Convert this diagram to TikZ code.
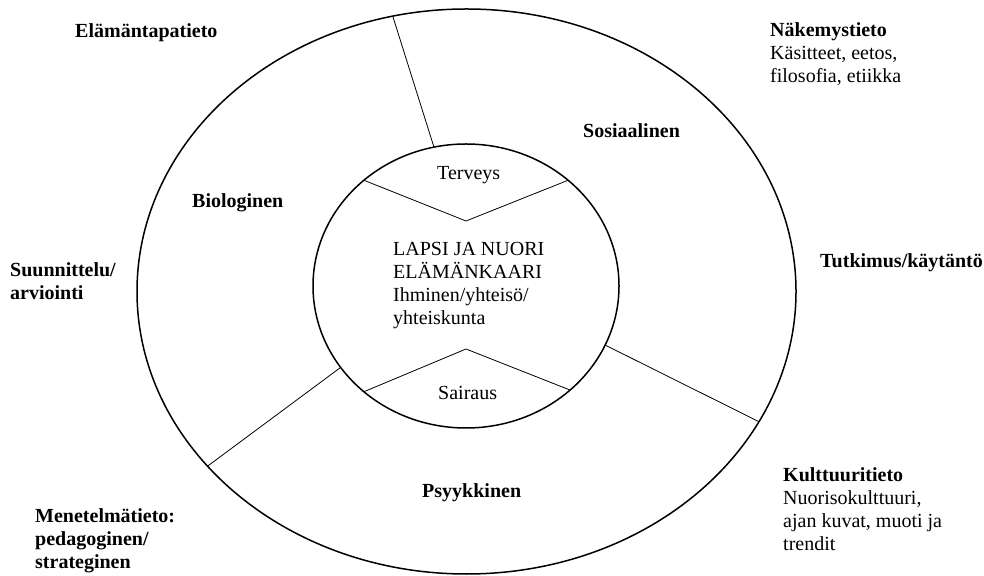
\documentclass[tikz,border=0pt]{standalone}
\usepackage{fontspec}
\setmainfont{Liberation Serif}
\usetikzlibrary{shapes.geometric}
\begin{document}
\begin{tikzpicture}[x=1pt,y=1pt,
  ring/.style={ellipse, draw, line width=1.5pt, inner sep=0pt, outer sep=0pt},
  divider/.style={line width=0.8pt},
  lbl/.style={anchor=base west, inner sep=0pt, align=left, font=\fontsize{20}{23}\selectfont},
  head/.style={lbl, font=\fontsize{20}{23}\selectfont\bfseries}]
\useasboundingbox (0,0) rectangle (984,575);

% the two rings
\node[ring, minimum width=659pt, minimum height=565pt] (outer) at (466.5,283.5) {};
\node[ring, minimum width=306pt, minimum height=284pt] (inner) at (466,289) {};

% sector dividers between the rings
\draw[divider] (outer.105.3) -- (inner.103);
\draw[divider] (inner.213.7) -- (outer.214.5);
\draw[divider] (inner.337) -- (outer.336);

% health / illness chevrons inside the inner ring
\coordinate (topapex) at (466,354);
\coordinate (botapex) at (466,226);
\draw[divider] (inner.134.7) -- (topapex) -- (inner.46.4);
\draw[divider] (inner.226.4) -- (botapex) -- (inner.315);

% centre (multi-line nodes are placed by the baseline of their last line)
\node[lbl] (core) at (393,250) {LAPSI JA NUORI\\ELÄMÄNKAARI\\Ihminen/yhteisö/\\yhteiskunta};
\node[lbl] (health) at (437,395) {Terveys};
\node[lbl] (illness) at (438,175) {Sairaus};

% sectors
\node[head] (social) at (583,437) {Sosiaalinen};
\node[head] (bio) at (192,367) {Biologinen};
\node[head] (psy) at (422,77) {Psyykkinen};

% surrounding knowledge areas
\node[head] (lifestyle) at (75,537) {Elämäntapatieto};
\node[lbl] (view) at (770,492) {\textbf{Näkemystieto}\\Käsitteet, eetos,\\filosofia, etiikka};
\node[head] (research) at (820,307) {Tutkimus/käytäntö};
\node[head] (planning) at (10,275) {Suunnittelu/\\arviointi};
\node[head] (method) at (35,7) {Menetelmätieto:\\pedagoginen/\\strateginen};
\node[lbl] (culture) at (783,24) {\textbf{Kulttuuritieto}\\Nuorisokulttuuri,\\ajan kuvat, muoti ja\\trendit};
\end{tikzpicture}
\end{document}
